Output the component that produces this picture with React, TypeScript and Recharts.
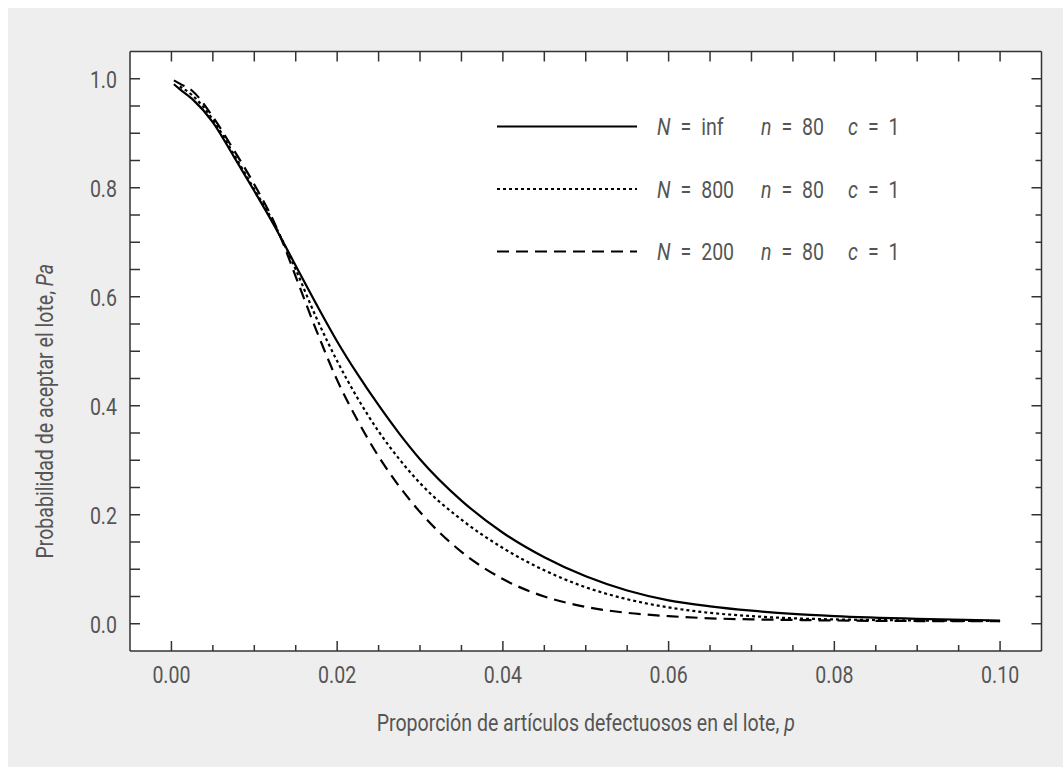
import { CartesianGrid, Label, Legend, Line, LineChart, XAxis, YAxis } from "recharts";

// proportion defective p and probability of acceptance Pa for each lot size
const p = [0.0003, 0.001, 0.0025, 0.005, 0.0075, 0.01, 0.0125, 0.0135, 0.015, 0.0175, 0.02, 0.0225, 0.025, 0.0275, 0.03, 0.035, 0.04, 0.045, 0.05, 0.055, 0.06, 0.065, 0.07, 0.075, 0.08, 0.09, 0.1];
const paInf = [0.99, 0.981, 0.963, 0.92, 0.858, 0.794, 0.728, 0.7, 0.657, 0.586, 0.518, 0.457, 0.401, 0.349, 0.302, 0.226, 0.167, 0.122, 0.087, 0.061, 0.043, 0.032, 0.024, 0.018, 0.014, 0.009, 0.006];
const pa800 = [null, 0.986, 0.97, 0.925, 0.862, 0.797, 0.731, 0.7, 0.65, 0.561, 0.482, 0.413, 0.353, 0.302, 0.258, 0.191, 0.139, 0.098, 0.067, 0.045, 0.03, 0.02, 0.014, 0.01, 0.008, 0.006, 0.005];
const pa200 = [0.997, 0.991, 0.978, 0.93, 0.87, 0.806, 0.733, 0.697, 0.637, 0.538, 0.447, 0.372, 0.307, 0.252, 0.205, 0.132, 0.082, 0.05, 0.031, 0.02, 0.014, 0.01, 0.008, 0.007, 0.006, 0.005, 0.005];

const xTicks = [0, 0.005, 0.01, 0.015, 0.02, 0.025, 0.03, 0.035, 0.04, 0.045, 0.05, 0.055, 0.06, 0.065, 0.07, 0.075, 0.08, 0.085, 0.09, 0.095, 0.1];
const yTicks = [0, 0.05, 0.1, 0.15, 0.2, 0.25, 0.3, 0.35, 0.4, 0.45, 0.5, 0.55, 0.6, 0.65, 0.7, 0.75, 0.8, 0.85, 0.9, 0.95, 1];

const series = [
  { key: "inf", N: "inf", n: "80", c: "1", dash: undefined as string | undefined },
  { key: "n800", N: "800", n: "80", c: "1", dash: "3 3" },
  { key: "n200", N: "200", n: "80", c: "1", dash: "12 7" },
];

const data = p.map((v, i) => ({ p: v, inf: paInf[i], n800: pa800[i], n200: pa200[i] }));

const FONT = "Roboto, sans-serif";
const SX = 0.85; // squeeze to mimic the condensed face
const TEXT = "#555";
const AXIS = "#333";
const EQ = "\u2002=\u2002";

const isMajorX = (v: number) => Math.round(v * 1000) % 20 === 0;
const isMajorY = (v: number) => Math.round(v * 100) % 20 === 0;

// condensed text: horizontally squeezed around its anchor point
const SText = ({ x, y, anchor = "start", size = 23, rotate, children }: any) => (
  <text
    transform={`translate(${x} ${y})${rotate ? ` rotate(${rotate})` : ""} scale(${SX} 1)`}
    textAnchor={anchor}
    fontSize={size}
    fontFamily={FONT}
    fill={TEXT}
  >
    {children}
  </text>
);

const BottomTick = ({ x, y, payload }: any) => {
  const major = isMajorX(payload.value);
  return (
    <g>
      <line x1={x} x2={x} y1={y} y2={y - (major ? 10 : 6)} stroke={AXIS} strokeWidth={1.5} />
      {major && (
        <SText x={x} y={y + 31.5} anchor="middle">
          {payload.value.toFixed(2)}
        </SText>
      )}
    </g>
  );
};

const TopTick = ({ x, y }: any) => (
  <line x1={x} x2={x} y1={y} y2={y + 10} stroke={AXIS} strokeWidth={1.5} />
);

const LeftTick = ({ x, y, payload }: any) => {
  const major = isMajorY(payload.value);
  return (
    <g>
      <line x1={x} x2={x + 10} y1={y} y2={y} stroke={AXIS} strokeWidth={1.5} />
      {major && (
        <SText x={x - 13} y={y + 9.5} anchor="end">
          {payload.value.toFixed(1)}
        </SText>
      )}
    </g>
  );
};

const RightTick = ({ x, y, payload }: any) => {
  const major = isMajorY(payload.value);
  return <line x1={x} x2={x - (major ? 10 : 6)} y1={y} y2={y} stroke={AXIS} strokeWidth={1.5} />;
};

const renderLegend = () => (
  <svg width={420} height={180}>
    {series.map((s, i) => {
      const cy = 26.5 + i * 62.5;
      return (
        <g key={s.key}>
          <line x1={7} x2={147} y1={cy} y2={cy} stroke="#000" strokeWidth={2.2} strokeDasharray={s.dash} />
          <SText x={167} y={cy + 8.5}>
            <tspan fontStyle="italic">N</tspan>
            <tspan>{EQ}{s.N}</tspan>
          </SText>
          <SText x={271} y={cy + 8.5}>
            <tspan fontStyle="italic">n</tspan>
            <tspan>{EQ}{s.n}</tspan>
          </SText>
          <SText x={358} y={cy + 8.5}>
            <tspan fontStyle="italic">c</tspan>
            <tspan>{EQ}{s.c}</tspan>
          </SText>
        </g>
      );
    })}
  </svg>
);

export default function App() {
  return (
    <div style={{ position: "relative", width: 1063, height: 767, background: "#fff", overflow: "hidden" }}>
      <style>{`body{margin:0}`}</style>
      <div style={{ position: "absolute", left: 8, top: 8, width: 1055, height: 759, background: "#eeeeee" }} />
      <div style={{ position: "absolute", left: 0, top: 0 }}>
        <LineChart width={1063} height={767} data={data} margin={{ top: 0, right: 0, bottom: 0, left: 0 }}>
          <CartesianGrid fill="#ffffff" horizontal={false} vertical={false} xAxisId="bottom" yAxisId="left" />
          <XAxis
            xAxisId="bottom"
            dataKey="p"
            type="number"
            domain={[-0.005, 0.105]}
            ticks={xTicks}
            interval={0}
            height={116}
            tickSize={0}
            tickMargin={0}
            tickLine={false}
            tick={<BottomTick />}
            axisLine={{ stroke: AXIS, strokeWidth: 1.5 }}
            allowDataOverflow
          >
            <Label
              content={({ viewBox }: any) => (
                <SText x={viewBox.x + viewBox.width / 2} y={viewBox.y + 79.5} anchor="middle">
                  Proporción de artículos defectuosos en el lote, <tspan fontStyle="italic">p</tspan>
                </SText>
              )}
            />
          </XAxis>
          <XAxis
            xAxisId="top"
            orientation="top"
            dataKey="p"
            type="number"
            domain={[-0.005, 0.105]}
            ticks={xTicks}
            interval={0}
            height={51.5}
            tickSize={0}
            tickMargin={0}
            tickLine={false}
            tick={<TopTick />}
            axisLine={{ stroke: AXIS, strokeWidth: 1.5 }}
            allowDataOverflow
          />
          <YAxis
            yAxisId="left"
            type="number"
            domain={[-0.05, 1.05]}
            ticks={yTicks}
            interval={0}
            width={130}
            tickSize={0}
            tickMargin={0}
            tickLine={false}
            tick={<LeftTick />}
            axisLine={{ stroke: AXIS, strokeWidth: 1.5 }}
            allowDataOverflow
          >
            <Label
              content={({ viewBox }: any) => (
                <SText x={viewBox.x + 53} y={viewBox.y + viewBox.height / 2 + 60} anchor="middle" rotate={-90}>
                  Probabilidad de aceptar el lote, <tspan fontStyle="italic">Pa</tspan>
                </SText>
              )}
            />
          </YAxis>
          <YAxis
            yAxisId="right"
            orientation="right"
            type="number"
            domain={[-0.05, 1.05]}
            ticks={yTicks}
            interval={0}
            width={21.5}
            tickSize={0}
            tickMargin={0}
            tickLine={false}
            tick={<RightTick />}
            axisLine={{ stroke: AXIS, strokeWidth: 1.5 }}
            allowDataOverflow
          />
          <Legend
            layout="horizontal"
            verticalAlign="middle"
            align="center"
            content={renderLegend}
            wrapperStyle={{ left: 490, top: 100, width: 420, height: 180 }}
          />
          {series.map((s) => (
            <Line
              key={s.key}
              xAxisId="bottom"
              yAxisId="left"
              dataKey={s.key}
              type="monotone"
              stroke="#000"
              strokeWidth={2.2}
              strokeDasharray={s.dash}
              dot={false}
              activeDot={false}
              isAnimationActive={false}
            />
          ))}
        </LineChart>
      </div>
    </div>
  );
}
